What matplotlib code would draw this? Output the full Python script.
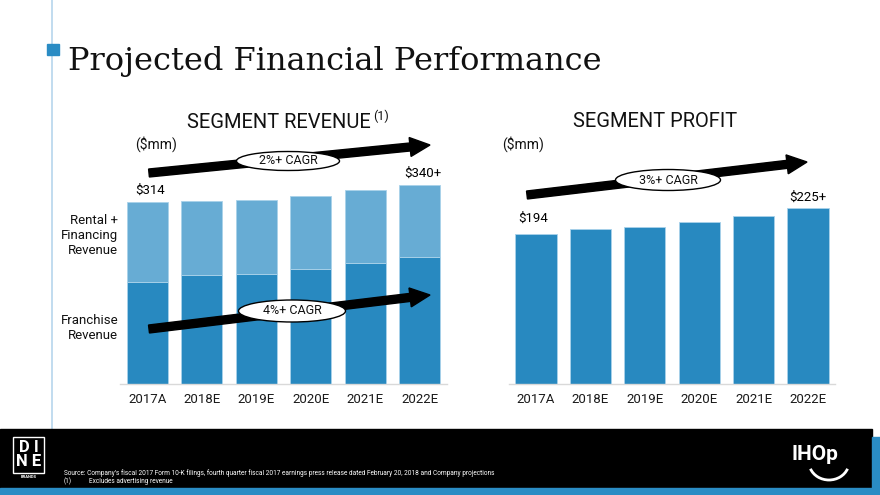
import matplotlib
matplotlib.use("Agg")
import matplotlib.pyplot as plt
from matplotlib.patches import Rectangle, Ellipse, FancyArrow, Arc
import numpy as np

# ---------------- data ----------------
years = ['2017A', '2018E', '2019E', '2020E', '2021E', '2022E']
franchise_rev = [176, 187, 190, 198, 209, 219]
rental_fin_rev = [138, 128, 127, 126, 125, 124]
segment_profit = [194, 200, 202, 209, 217, 227]
rev_value_labels = ['$314', '$340+']
profit_value_labels = ['$194', '$225+']
cagr_labels = ['2%+ CAGR', '4%+ CAGR', '3%+ CAGR']

DARK = '#2889c0'
LIGHT = '#67acd4'
EDGE = '#a9d2ea'
SANS = ['Roboto', 'DejaVu Sans']
plt.rcParams['font.family'] = SANS

W, H = 880, 495
fig = plt.figure(figsize=(8.8, 4.95), dpi=100)
fig.patch.set_facecolor('white')

def px_axes(x0, x1, ybot, ytop):
    return fig.add_axes([x0 / W, (H - ybot) / H, (x1 - x0) / W, (ybot - ytop) / H])

def style(ax, ymax):
    ax.set_xlim(-0.5, 5.5)
    ax.set_ylim(0, ymax)
    for s in ['top', 'left', 'right']:
        ax.spines[s].set_visible(False)
    ax.spines['bottom'].set_color('#d9d9d9')
    ax.spines['bottom'].set_linewidth(1.0)
    ax.set_yticks([])
    ax.set_xticks(range(len(years)))
    ax.set_xticklabels(years, fontsize=9.5, color='#1a1a1a')
    ax.tick_params(axis='x', length=0, pad=7)
    ax.patch.set_alpha(0)

x = np.arange(len(years))
bw = 0.755

# left chart: segment revenue (stacked)
axL = px_axes(120.3, 446.7, 383.5, 100)
style(axL, 490)
axL.bar(x, franchise_rev, width=bw, color=DARK, edgecolor=EDGE, linewidth=0.6)
axL.bar(x, rental_fin_rev, bottom=franchise_rev, width=bw, color=LIGHT,
        edgecolor=EDGE, linewidth=0.6)
totals = [f + r for f, r in zip(franchise_rev, rental_fin_rev)]
axL.annotate(rev_value_labels[0], (x[0], totals[0]), xytext=(2, 8.4),
             textcoords='offset points', ha='center', va='center', fontsize=9.5)
axL.annotate(rev_value_labels[1], (x[-1], totals[-1]), xytext=(2.5, 8.6),
             textcoords='offset points', ha='center', va='center', fontsize=9.5)

# right chart: segment profit
axR = px_axes(508.8, 835.2, 383.5, 100)
style(axR, 367)
axR.bar(x, segment_profit, width=bw, color=DARK, edgecolor=EDGE, linewidth=0.6)
axR.annotate(profit_value_labels[0], (x[0], segment_profit[0]), xytext=(-2.2, 11),
             textcoords='offset points', ha='center', va='center', fontsize=9.5)
axR.annotate(profit_value_labels[1], (x[-1], segment_profit[-1]), xytext=(0, 7.6),
             textcoords='offset points', ha='center', va='center', fontsize=9.5)

# ---------------- overlay (pixel coordinates) ----------------
ov = fig.add_axes([0, 0, 1, 1], zorder=10)
ov.set_xlim(0, W)
ov.set_ylim(H, 0)
ov.axis('off')
ov.patch.set_alpha(0)

# vertical guide line and bullet
ov.plot([52.3, 52.3], [0, 429], color='#bcd9ee', lw=1.3, zorder=1)
ov.add_patch(Rectangle((46.7, 44), 12.6, 11, color='#2a8cc4', zorder=2))
ov.text(68, 70, 'Projected Financial Performance', fontsize=23,
        family=['DejaVu Serif'], va='baseline', ha='left', color='#111111')

# chart titles
ov.text(279, 122, 'SEGMENT REVENUE', fontsize=14.5, ha='center', va='center', color='#111111')
ov.text(373, 116, '(1)', fontsize=9, ha='left', va='center', color='#111111')
ov.text(655.5, 121.5, 'SEGMENT PROFIT', fontsize=14.5, ha='center', va='center', color='#111111')
ov.text(156, 144, '($mm)', fontsize=10, ha='center', va='center', color='#111111')
ov.text(523, 144, '($mm)', fontsize=10, ha='center', va='center', color='#111111')

# side labels
ov.text(118, 235, 'Rental +\nFinancing\nRevenue', fontsize=9.5, ha='right', va='center',
        multialignment='right', linespacing=1.2, color='#111111')
ov.text(118, 328, 'Franchise\nRevenue', fontsize=9.5, ha='right', va='center',
        multialignment='right', linespacing=1.2, color='#111111')

# CAGR arrows
def cagr_arrow(x0, y0, x1, y1, ex, ey, ew, eh, label):
    ov.add_patch(FancyArrow(x0, y0, x1 - x0, y1 - y0, width=8, head_width=19,
                            head_length=20, length_includes_head=True,
                            color='black', zorder=3))
    ov.add_patch(Ellipse((ex, ey), ew, eh, facecolor='white', edgecolor='black',
                         lw=1.0, zorder=4))
    ov.text(ex, ey, label, fontsize=9, ha='center', va='center', zorder=5, color='#111111')

cagr_arrow(149, 173, 430, 145, 288, 161, 103, 19, cagr_labels[0])
cagr_arrow(149, 329, 430, 295, 292, 311, 107, 22, cagr_labels[1])
cagr_arrow(527, 195, 807, 162, 668, 180, 105, 21, cagr_labels[2])

# footer
ov.add_patch(Rectangle((0, 429), 872, 59, color='black', zorder=1))
ov.add_patch(Rectangle((0, 488), 880, 7, color='#2a8cc4', zorder=1))
ov.add_patch(Rectangle((872, 437), 8, 58, color='#2a8cc4', zorder=1))

# DINE logo
ov.add_patch(Rectangle((12.7, 437.3), 31.3, 35.4, fill=False, edgecolor='white', lw=1.0, zorder=2))
ov.text(28.5, 447.5, 'D I', fontsize=12, weight='bold', color='white', ha='center', va='center', zorder=3)
ov.text(28.5, 462, 'N E', fontsize=12, weight='bold', color='white', ha='center', va='center', zorder=3)
ov.text(28.5, 477, 'BRANDS', fontsize=3, weight='bold', color='white', ha='center', va='center', zorder=3)

# footnotes
ov.text(64, 473.3, 'Source: Company\u2019s fiscal 2017 Form 10-K filings, fourth quarter fiscal 2017 '
        'earnings press release dated February 20, 2018 and Company projections',
        fontsize=4.7, color='white', ha='left', va='center', zorder=3)
ov.text(64, 481.7, '(1)', fontsize=4.7, color='white', ha='left', va='center', zorder=3)
ov.text(89, 481.7, 'Excludes advertising revenue', fontsize=4.7, color='white',
        ha='left', va='center', zorder=3)

# IHOP logo
ov.text(815, 455, 'IHOp', fontsize=15, weight='bold', color='white', ha='center', va='center', zorder=3)
ov.add_patch(Arc((829, 462), 40, 36, theta1=20, theta2=160, color='white', lw=2, zorder=3))

fig.savefig('out.png', dpi=100)
